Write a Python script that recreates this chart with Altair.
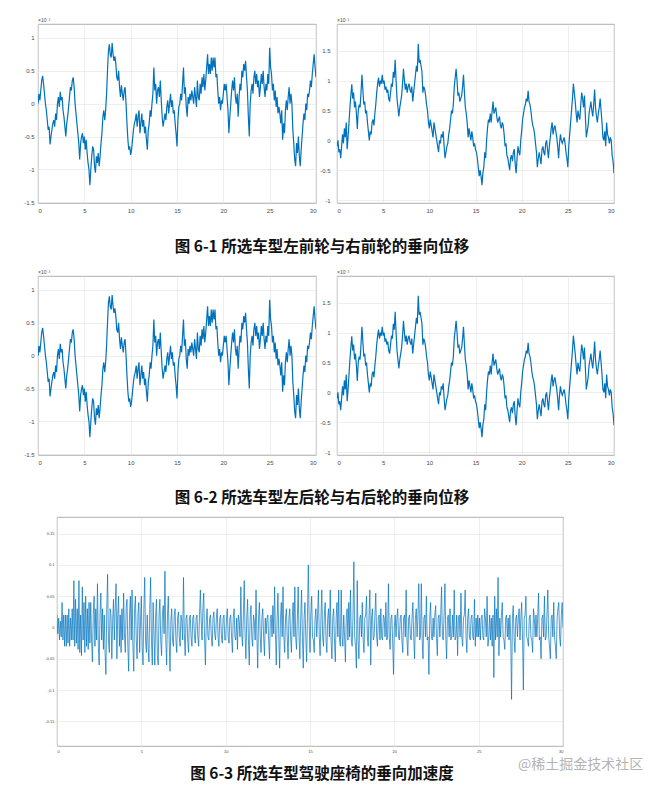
import altair as alt
import pandas as pd

# ---------------- data ----------------
# vertical displacement, left wheel (x 1e-3), t = 0 .. 30 s, step 0.1 s
LEFT_WHEEL = [
    0.0, 0.15, 0.05, 0.2, 0.35, 0.42, 0.3, 0.15, 0.0, -0.1,
    -0.25, -0.4, -0.35, -0.62, -0.5, -0.4, -0.3, -0.25, -0.35, -0.15,
    -0.25, 0.0, 0.1, -0.05, 0.18, 0.05, 0.1, -0.1, -0.2, -0.35,
    -0.5, -0.3, -0.2, -0.05, 0.1, 0.25, 0.2, 0.35, 0.4, 0.25,
    0.0, -0.15, -0.3, -0.45, -0.6, -0.85, -0.6, -0.5, -0.45, -0.6,
    -0.5, -0.7, -0.55, -0.75, -0.9, -1.0, -1.24, -1.0, -0.8, -0.65,
    -0.7, -0.95, -1.05, -0.8, -0.9, -0.75, -0.95, -0.8, -0.6, -0.45,
    -0.2, -0.1, -0.25, -0.1, 0.15, 0.5, 0.8, 0.9, 0.75, 0.7,
    0.92, 0.75, 0.65, 0.72, 0.6, 0.4, 0.35, 0.5, 0.25, 0.1,
    0.28, 0.15, 0.05, 0.2, 0.25, 0.0, -0.3, -0.55, -0.7, -0.65,
    -0.78, -0.7, -0.55, -0.4, -0.3, -0.25, -0.15, -0.35, -0.2, -0.1,
    -0.45, -0.3, -0.15, -0.35, -0.25, -0.45, -0.35, -0.55, -0.7, -0.4,
    -0.3, -0.1, -0.2, 0.0, 0.15, 0.55, 0.2, 0.3, 0.0, 0.2,
    0.25, 0.1, 0.35, 0.05, -0.2, -0.35, -0.25, -0.15, -0.25, -0.05,
    0.05, -0.15, 0.0, 0.15, -0.05, 0.05, -0.15, -0.1, -0.3, -0.45,
    -0.65, -0.25, -0.05, 0.0, 0.15, 0.05, 0.3, 0.55, 0.15, 0.25,
    -0.05, -0.2, 0.1, 0.0, 0.15, 0.05, 0.2, 0.1, 0.0, 0.25,
    0.1, -0.05, 0.35, 0.1, 0.05, 0.3, 0.15, 0.4, 0.25, 0.45,
    0.2, 0.35, 0.55, 0.75, 0.45, 0.6, 0.45, 0.7, 0.5, 0.7,
    0.55, 0.7, 0.4, 0.45, 0.2, 0.0, 0.1, -0.1, 0.05, 0.0,
    0.15, 0.3, 0.2, 0.3, 0.1, -0.1, -0.45, -0.2, 0.0, 0.2,
    0.35, 0.2, 0.4, 0.1, 0.0, 0.15, -0.2, 0.1, 0.3, 0.2,
    0.5, 0.4, 0.6, 0.5, 0.65, 0.4, 0.2, -0.2, -0.5, 0.0,
    0.2, 0.3, 0.15, 0.4, 0.5, 0.3, 0.45, 0.25, 0.35, 0.1,
    0.25, 0.45, 0.3, 0.5, 0.25, 0.1, 0.3, 0.2, 0.45, 0.3,
    0.85, 0.55, 0.45, 0.2, 0.3, 0.05, 0.2, -0.05, 0.1, -0.15,
    -0.05, -0.15, -0.3, -0.1, -0.55, -0.3, -0.45, -0.1, 0.05, -0.1,
    0.1, 0.25, 0.0, 0.15, 0.0, -0.4, -0.6, -0.85, -0.95, -0.6,
    -0.75, -0.5, -0.8, -0.95, -0.7, -0.5, -0.3, -0.15, -0.25, 0.0,
    -0.1, 0.15, 0.1, 0.2, 0.35, 0.25, 0.45, 0.6, 0.75, 0.55,
    0.4,
]

# vertical displacement, right wheel (x 1e-3), t = 0 .. 30 s, step 0.1 s
RIGHT_WHEEL = [
    -0.1, 0.0, -0.2, -0.15, -0.3, -0.1, 0.1, -0.05, 0.2, 0.05,
    0.3, -0.15, 0.05, 0.3, 0.55, 0.75, 0.94, 0.7, 0.8, 0.55,
    0.65, 0.45, 0.19, 0.5, 0.6, 0.55, 0.8, 1.1, 0.85, 0.6,
    0.65, 0.45, 0.5, 0.3, 0.15, 0.0, 0.15, 0.1, 0.3, 0.35,
    0.25, 0.45, 0.6, 0.8, 0.95, 1.05, 0.9, 1.0, 0.95, 1.1,
    0.95, 1.0, 0.85, 0.9, 0.8, 0.85, 0.7, 0.65, 0.8, 0.95,
    0.9, 1.15, 1.05, 1.35, 1.0, 0.7, 0.55, 0.4, 0.55, 0.65,
    0.75, 0.95, 1.2, 1.0, 0.85, 0.95, 0.8, 0.9, 0.95, 0.85,
    0.8, 0.9, 0.65, 0.8, 0.95, 1.1, 1.25, 1.15, 1.62, 1.3,
    1.35, 1.25, 1.15, 0.8, 0.9, 0.85, 0.75, 0.6, 0.5, 0.3,
    0.2, 0.35, 0.25, 0.15, 0.05, 0.3, 0.2, 0.1, 0.0, -0.1,
    -0.2, 0.0, -0.05, 0.1, 0.05, 0.15, -0.1, -0.3, -0.2, -0.1,
    -0.05, 0.1, 0.2, 0.35, 0.5, 0.45, 0.6, 0.9, 1.05, 1.2,
    1.0, 0.75, 0.8, 0.65, 0.7, 0.75, 0.9, 1.1, 0.8, 0.55,
    0.45, 0.3, 0.05, 0.2, 0.1, 0.0, 0.15, 0.05, -0.1, -0.05,
    -0.15, -0.2, -0.3, -0.45, -0.6, -0.5, -0.6, -0.75, -0.55, -0.45,
    -0.2, -0.3, 0.0, 0.2, 0.35, 0.3, 0.45, 0.3, 0.5, 0.65,
    0.45, 0.5, 0.55, 0.4, 0.3, 0.35, 0.4, 0.25, 0.2, 0.3,
    0.25, 0.1, -0.1, -0.05, -0.25, -0.3, -0.4, -0.5, -0.3, -0.25,
    -0.35, -0.2, -0.15, -0.4, -0.55, -0.3, -0.1, -0.2, -0.25, 0.0,
    0.15, 0.35, 0.45, 0.55, 0.6, 0.7, 0.65, 0.83, 0.65, 0.6,
    0.5, 0.35, 0.25, 0.2, 0.1, -0.05, -0.2, -0.45, -0.3, -0.2,
    -0.3, -0.4, -0.15, -0.1, -0.2, -0.25, -0.05, 0.0, -0.15, -0.3,
    -0.1, 0.05, 0.2, 0.3, 0.1, 0.2, 0.25, 0.15, 0.05, -0.1,
    -0.3, -0.05, 0.1, 0.0, -0.05, 0.0, 0.05, -0.05, -0.2, -0.3,
    -0.45, -0.1, 0.1, 0.3, 0.5, 0.7, 0.95, 0.8, 0.65, 0.45,
    0.3, 0.5, 0.4, 0.35, 0.6, 0.8, 0.7, 0.55, 0.75, 0.4,
    0.05, 0.15, 0.25, 0.45, 0.55, 0.65, 0.5, 0.4, 0.6, 0.85,
    0.55, 0.4, 0.3, 0.45, 0.55, 0.7, 0.5, 0.3, 0.05, 0.0,
    0.15, -0.1, 0.3, 0.1, 0.05, -0.05, 0.05, 0.0, -0.25, -0.35,
    -0.55,
]

# seat vertical acceleration, t = 0 .. 30 s, step 0.05 s
SEAT_ACC = [
    0.02, -0.01, 0.015, -0.02, 0.01, -0.015, 0.04, -0.02, 0.02, -0.03, 0.02, -0.03, 0.02, -0.025, 0.03, -0.03, 0.015, -0.02, 0.03, -0.02,
    0.075, -0.03, 0.045, -0.025, 0.03, -0.035, 0.075, -0.04, 0.02, -0.045, 0.065, -0.02, 0.04, -0.04, 0.05, -0.03, 0.03, -0.035, 0.04, -0.025,
    0.04, -0.02, -0.055, 0.02, 0.05, -0.03, 0.03, -0.02, 0.07, -0.03, -0.06, 0.02, 0.055, -0.02, 0.03, -0.035, 0.02, -0.04, -0.075, 0.03,
    0.085, -0.02, -0.04, 0.03, 0.02, -0.05, 0.01, 0.045, -0.02, 0.03, 0.07, -0.05, 0.02, 0.05, -0.03, 0.02, -0.04, 0.03, -0.02, 0.055,
    -0.01, -0.04, 0.03, 0.045, -0.03, -0.07, 0.02, 0.05, -0.02, 0.06, -0.03, -0.07, 0.03, 0.05, -0.02, -0.05, 0.02, 0.04, -0.04, 0.01,
    0.05, -0.03, -0.06, 0.03, 0.08, -0.02, -0.04, 0.02, -0.03, -0.055, 0.03, 0.08, -0.02, -0.06, 0.04, -0.01, -0.06, 0.02, 0.045, -0.045,
    -0.06, 0.02, 0.045, -0.02, -0.045, 0.02, 0.035, -0.01, 0.09, -0.02, -0.06, 0.02, 0.05, -0.02, -0.07, 0.01, 0.03, -0.02, -0.03, 0.02,
    0.03, -0.02, -0.04, 0.015, 0.025, -0.015, -0.03, 0.02, 0.01, -0.02, 0.08, -0.01, -0.045, 0.015, 0.02, -0.02, -0.04, 0.015, 0.02, -0.015,
    -0.03, 0.015, 0.02, -0.015, -0.025, 0.015, 0.02, -0.015, -0.03, 0.02, 0.06, 0.01, -0.02, 0.03, 0.055, -0.02, -0.06, 0.01, 0.03, -0.015,
    -0.02, 0.015, 0.02, -0.015, -0.03, 0.015, 0.025, -0.01, -0.02, 0.015, 0.03, -0.015, -0.03, 0.015, 0.02, -0.015, -0.025, 0.015, 0.02, -0.02,
    -0.02, 0.015, 0.03, -0.015, -0.025, 0.015, 0.02, -0.015, -0.04, 0.015, 0.03, -0.015, -0.02, 0.015, -0.035, 0.02, 0.01, -0.015, 0.065, -0.01,
    -0.03, 0.02, 0.075, -0.01, -0.05, 0.015, 0.045, -0.02, -0.06, 0.015, 0.035, -0.015, -0.03, 0.02, 0.01, -0.02, 0.06, -0.01, -0.065, 0.015,
    0.04, -0.015, -0.04, 0.015, 0.03, -0.015, -0.045, 0.015, -0.01, 0.015, 0.02, -0.02, -0.05, 0.015, 0.02, -0.015, 0.035, -0.01, 0.065, -0.01,
    -0.06, 0.015, 0.055, -0.015, -0.065, 0.015, 0.04, -0.015, 0.065, -0.015, -0.04, 0.015, 0.03, -0.015, -0.05, 0.015, 0.03, -0.015, -0.04, 0.015,
    0.04, -0.015, 0.065, -0.015, -0.035, 0.015, 0.065, -0.015, -0.05, 0.015, 0.06, -0.015, -0.065, 0.015, 0.04, -0.015, -0.055, 0.02, 0.1, 0.01,
    -0.04, 0.02, 0.05, -0.015, -0.02, -0.04, 0.015, 0.03, -0.015, 0.02, 0.06, -0.015, -0.045, 0.015, 0.06, -0.015, -0.03, 0.02, 0.04, -0.02,
    -0.04, 0.015, 0.03, -0.015, 0.06, -0.02, -0.05, 0.015, 0.03, -0.02, -0.055, 0.015, 0.04, -0.015, 0.06, -0.02, -0.03, 0.06, -0.015, -0.03,
    0.02, -0.015, -0.055, 0.015, 0.03, -0.02, 0.04, -0.015, 0.06, -0.02, -0.03, 0.02, 0.105, -0.015, -0.03, -0.065, 0.075, -0.02, -0.05, 0.015,
    0.02, -0.015, 0.04, -0.02, -0.04, 0.015, 0.02, 0.05, -0.015, -0.03, 0.02, 0.06, -0.06, 0.015, 0.03, -0.02, -0.015, 0.02, 0.055, -0.015,
    -0.03, 0.015, 0.02, -0.02, 0.03, -0.015, -0.02, 0.02, 0.015, -0.015, 0.04, -0.02, -0.015, 0.07, -0.015, -0.035, 0.015, 0.02, -0.02, -0.075,
    0.0, 0.02, -0.015, 0.015, 0.03, -0.015, -0.02, 0.015, 0.02, -0.02, -0.04, 0.015, 0.02, -0.015, 0.06, -0.02, -0.045, 0.015, 0.02, -0.015,
    -0.02, 0.015, 0.04, -0.015, -0.05, 0.015, 0.03, -0.015, 0.02, 0.07, -0.02, -0.015, 0.07, -0.02, -0.05, 0.015, 0.02, -0.015, 0.05, -0.02,
    -0.015, -0.075, 0.015, 0.04, -0.015, -0.02, 0.015, -0.015, 0.02, 0.035, -0.015, -0.045, 0.015, 0.02, -0.015, 0.02, 0.065, -0.015, -0.02, 0.02,
    0.07, -0.015, -0.05, 0.015, 0.02, -0.015, 0.03, -0.02, -0.015, 0.02, -0.015, 0.06, -0.02, -0.015, 0.02, -0.045, 0.015, 0.02, -0.015, 0.055,
    -0.015, -0.03, 0.015, 0.02, 0.06, -0.015, -0.04, 0.015, 0.03, -0.015, -0.02, 0.015, 0.02, -0.015, -0.02, 0.045, -0.03, 0.015, -0.015, 0.02,
    -0.015, 0.015, -0.02, 0.015, 0.02, -0.015, -0.02, 0.03, 0.015, -0.015, 0.05, -0.03, -0.015, 0.02, -0.02, 0.015, -0.03, 0.02, -0.08, 0.05,
    -0.02, 0.03, -0.015, 0.08, -0.045, 0.015, -0.015, 0.02, 0.04, -0.015, -0.02, -0.035, 0.015, 0.02, -0.015, 0.015, -0.02, 0.02, -0.015, -0.115,
    0.015, 0.035, -0.015, -0.04, 0.015, 0.02, -0.015, 0.015, 0.03, -0.02, 0.015, 0.04, -0.015, -0.1, 0.015, 0.02, 0.05, -0.015, -0.02, -0.03,
    0.015, 0.02, -0.015, -0.02, -0.04, 0.03, 0.015, -0.015, 0.02, -0.015, 0.015, 0.055, -0.02, -0.015, -0.05, 0.015, 0.02, -0.015, 0.05, -0.02,
    -0.015, 0.02, 0.06, -0.015, -0.03, -0.05, 0.015, 0.02, -0.015, 0.04, -0.015, -0.03, -0.05, 0.015, 0.03, 0.04, -0.015, -0.03, 0.02, 0.04,
    0.0,
]

X_TICKS = [0, 5, 10, 15, 20, 25, 30]
Y_TICKS_LEFT = [-1.5, -1, -0.5, 0, 0.5, 1]
Y_TICKS_RIGHT = [-1, -0.5, 0, 0.5, 1, 1.5]
Y_TICKS_SEAT = [-0.15, -0.1, -0.05, 0, 0.05, 0.1, 0.15]

CAPTIONS = [
    "图 6-1  所选车型左前轮与右前轮的垂向位移",
    "图 6-2  所选车型左后轮与右后轮的垂向位移",
    "图 6-3 所选车型驾驶座椅的垂向加速度",
]
WATERMARK = "@稀土掘金技术社区"
EXPONENT = "×10⁻³"

LINE_BLUE = "#0072BD"
AXIS_TEXT = "#4a4a4a"
GRID = "#e2e2e2"
BOX = "#9a9a9a"


def series(vals, step):
    return pd.DataFrame({"t": [round(i * step, 3) for i in range(len(vals))], "v": vals})


def panel(vals, step, ydom, yticks, w, h, yext, ylpad, fs, xext, xlpad,
          sw=1.2, title=None):
    ch = alt.Chart(series(vals, step)).mark_line(
        strokeWidth=sw, color=LINE_BLUE, clip=True
    ).encode(
        x=alt.X("t:Q", scale=alt.Scale(domain=[0, 30], nice=False, zero=False),
                axis=alt.Axis(values=X_TICKS, title=None, grid=True, domain=False,
                              ticks=False, labelFontSize=fs, labelPadding=xlpad,
                              labelColor=AXIS_TEXT, labelFont="Liberation Sans",
                              gridColor=GRID, gridWidth=0.6, labelOverlap=False,
                              minExtent=xext, maxExtent=xext)),
        y=alt.Y("v:Q", scale=alt.Scale(domain=ydom, nice=False, zero=False),
                axis=alt.Axis(values=yticks, title=None, grid=True, domain=False,
                              ticks=False, labelFontSize=fs, labelPadding=ylpad,
                              labelColor=AXIS_TEXT, labelFont="Liberation Sans",
                              gridColor=GRID, gridWidth=0.6, labelOverlap=False,
                              labelExpr="'' + datum.value",
                              minExtent=yext, maxExtent=yext)),
    ).properties(width=w, height=h,
                 view=alt.ViewBackground(stroke=BOX, strokeWidth=0.8))
    if title:
        ch = ch.properties(title=alt.TitleParams(
            text=title, anchor="start", frame="group", fontSize=5,
            fontWeight="normal", color=AXIS_TEXT, offset=1,
            font="Liberation Sans"))
    return ch


def caption(text, h, ty, wm=False):
    base = alt.Chart(alt.Data(values=[{"k": 1}]))
    layers = [base.mark_text(text=text, font="Noto Sans CJK SC", fontWeight="bold",
                             fontSize=15.5, color="#111111", align="center",
                             baseline="middle").encode(x=alt.value(284), y=alt.value(ty))]
    if wm:
        layers.append(base.mark_text(text=WATERMARK, font="Noto Sans CJK SC",
                                     fontSize=14, color="#b4b4b4", align="left",
                                     baseline="middle").encode(x=alt.value(480), y=alt.value(9)))
    return alt.layer(*layers).properties(width=580, height=h)


def wheel_row():
    p_left = panel(LEFT_WHEEL, 0.1, [-1.51, 1.21], Y_TICKS_LEFT, 278, 179,
                   29, 4, 6, 11, 4, title=EXPONENT)
    p_right = panel(RIGHT_WHEEL, 0.1, [-1.05, 1.95], Y_TICKS_RIGHT, 277, 179,
                    18, 7, 6, 11, 4, title=EXPONENT)
    return alt.hconcat(p_left, p_right, spacing=1)


# empty block that indents the seat panel
spacer = alt.Chart(alt.Data(values=[{"k": 1}])).mark_point(opacity=0, size=1).encode(
    x=alt.value(2), y=alt.value(100)).properties(width=5, height=229)
seat = panel(SEAT_ACC, 0.05, [-0.1894, 0.1766], Y_TICKS_SEAT, 506, 229,
             12, 3, 4, 8, 3, sw=0.7)

chart = alt.vconcat(
    wheel_row(),
    caption(CAPTIONS[0], 52, 31),
    wheel_row(),
    caption(CAPTIONS[1], 47, 30),
    alt.hconcat(spacer, seat, spacing=0),
    caption(CAPTIONS[2], 26, 18, wm=True),
    spacing=0,
).properties(
    padding={"left": 0, "top": 9, "right": 0, "bottom": 0},
    background="white",
).configure_view(stroke="transparent")

chart.save("out.html", embed_options={"renderer": "svg", "actions": False})
